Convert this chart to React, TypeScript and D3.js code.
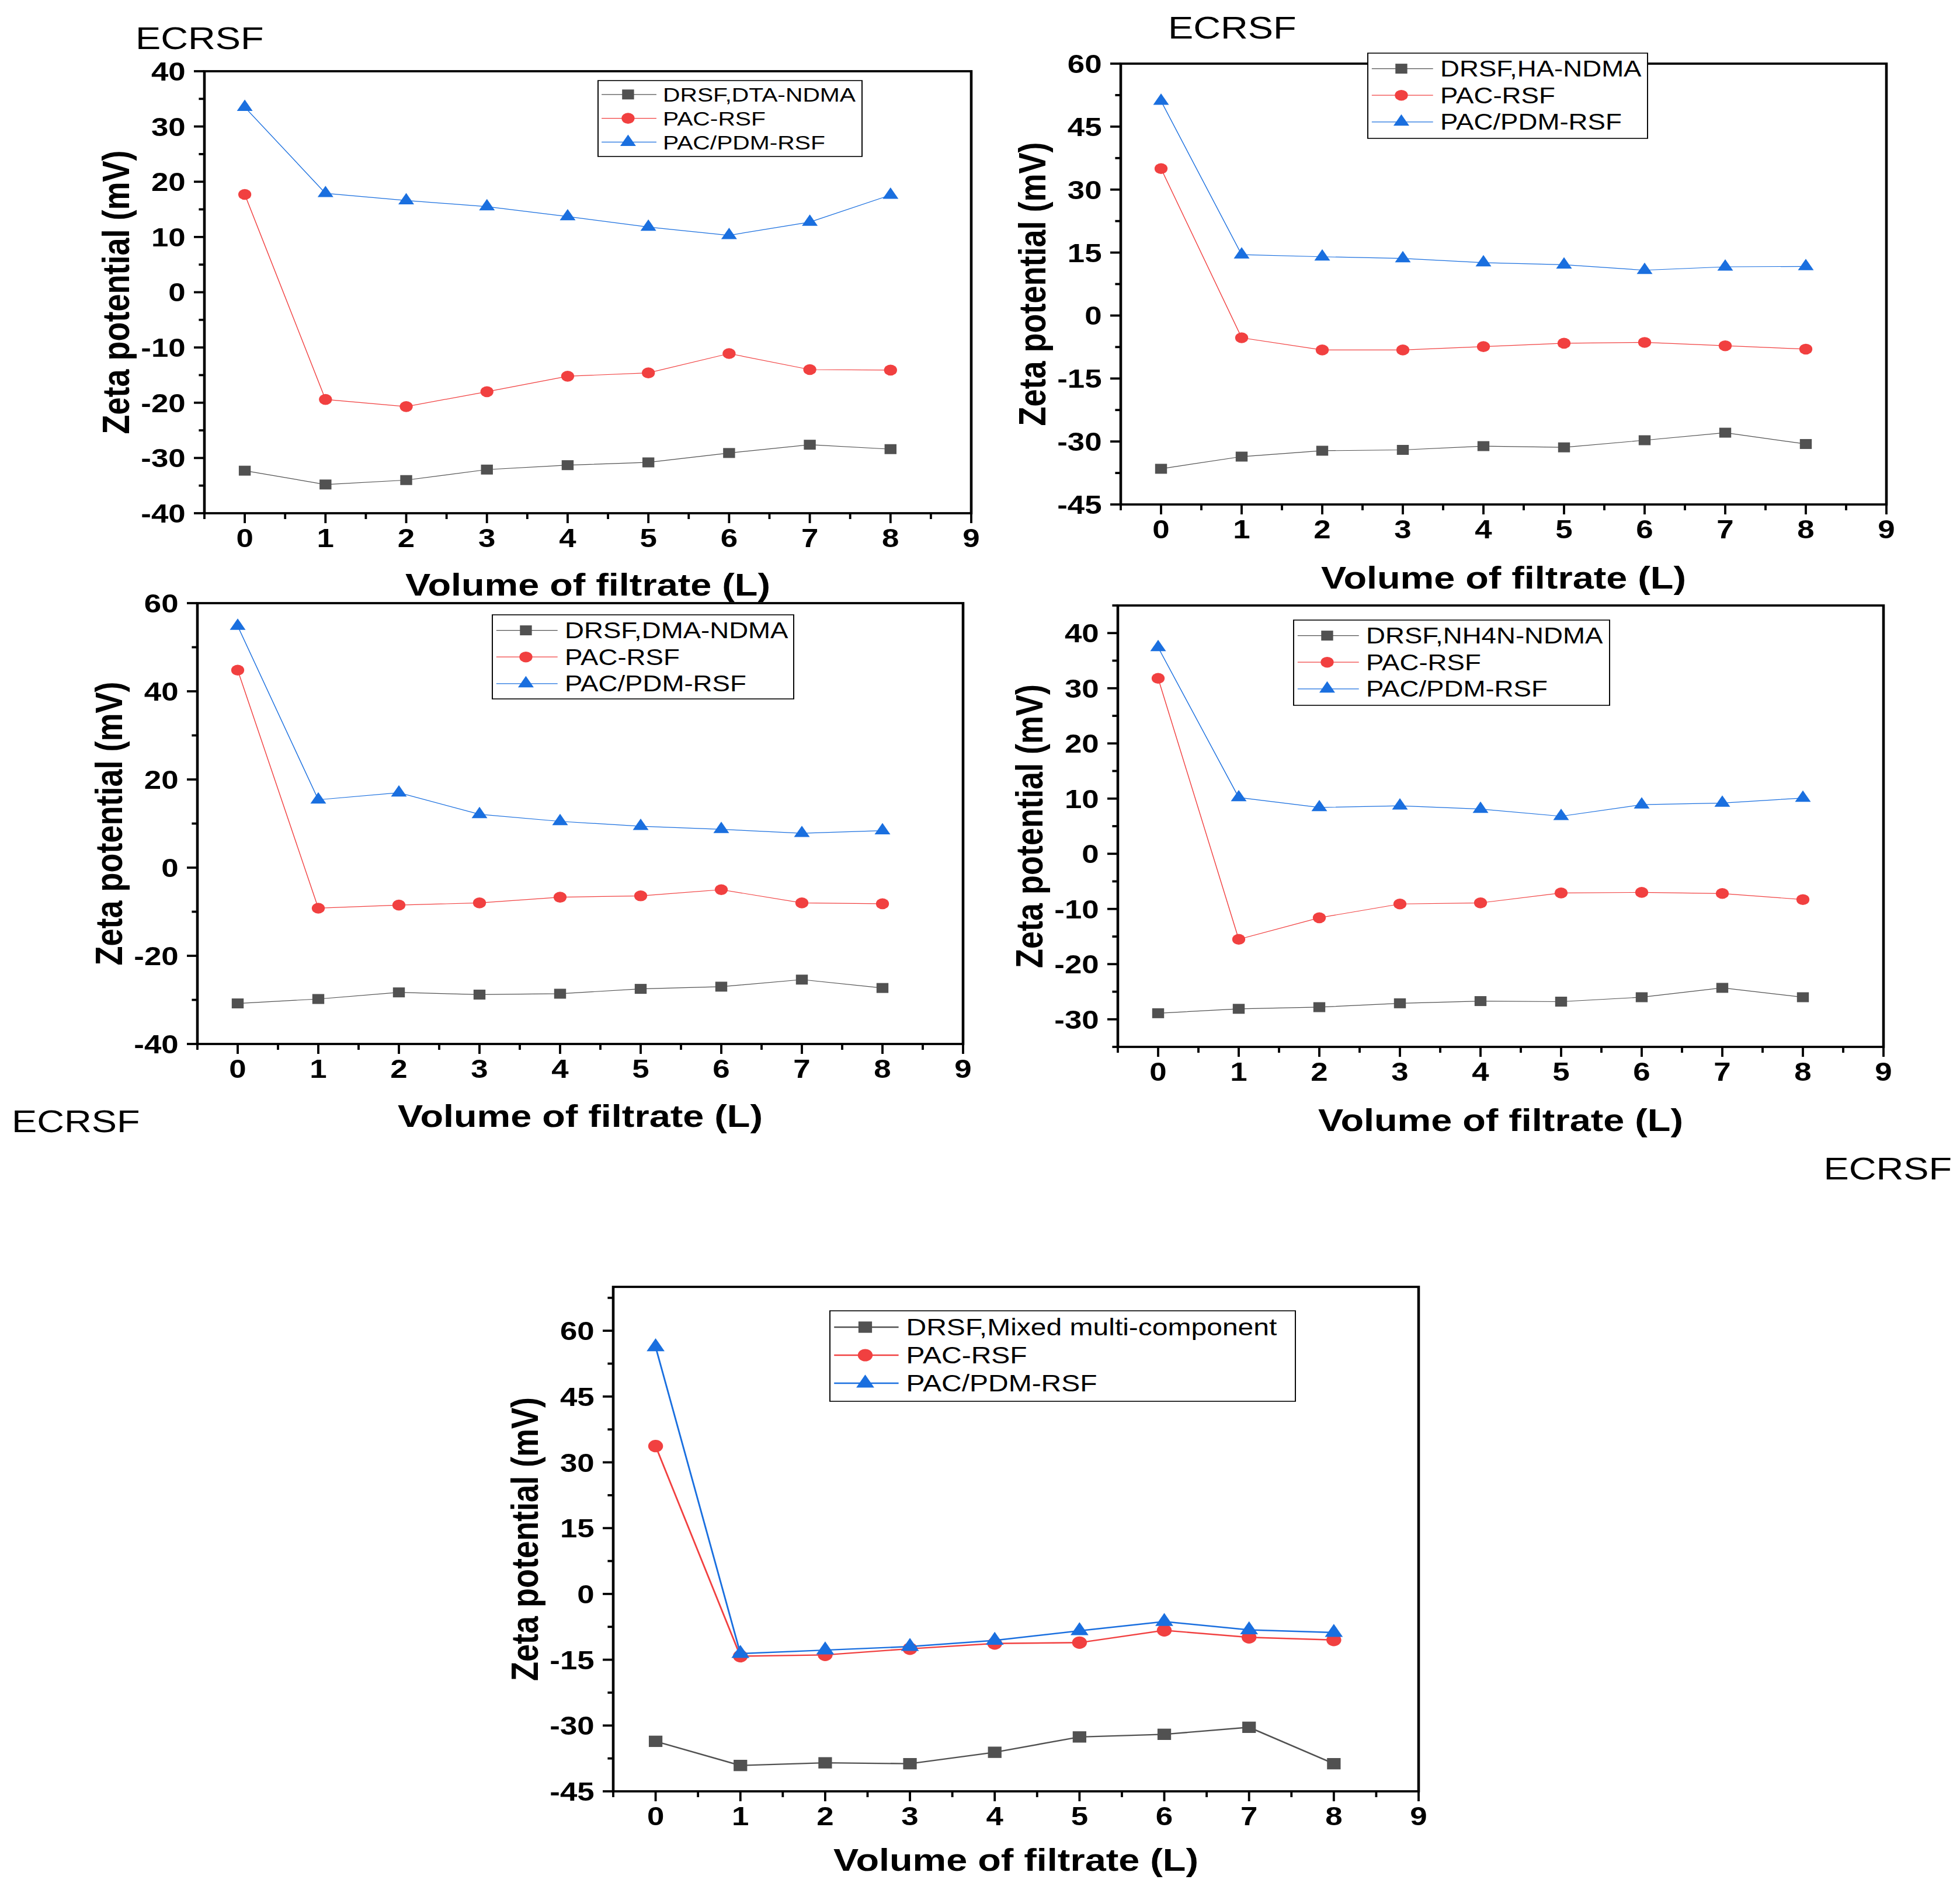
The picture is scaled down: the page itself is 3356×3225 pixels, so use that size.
import React from 'react';
import * as d3 from 'd3';

// Volume of filtrate (L), shared x values of every panel
const volumes = [0, 1, 2, 3, 4, 5, 6, 7, 8];
const xTicks = [0, 1, 2, 3, 4, 5, 6, 7, 8, 9];

// Panel a: DTA-NDMA
const drsfDTA = [-32.3, -34.8, -34.0, -32.1, -31.3, -30.8, -29.1, -27.6, -28.4];
const pacDTA = [17.7, -19.4, -20.7, -18.0, -15.2, -14.6, -11.1, -14.0, -14.1];
const pdmDTA = [33.5, 17.9, 16.6, 15.5, 13.7, 11.8, 10.3, 12.7, 17.6];
const ticksDTA = [-40, -30, -20, -10, 0, 10, 20, 30, 40];

// Panel b: HA-NDMA
const drsfHA = [-36.5, -33.6, -32.2, -32.0, -31.1, -31.4, -29.7, -27.9, -30.6];
const pacHA = [35.0, -5.3, -8.2, -8.2, -7.4, -6.6, -6.4, -7.2, -8.0];
const pdmHA = [51.1, 14.5, 14.0, 13.6, 12.6, 12.1, 10.8, 11.6, 11.7];
const ticksHA = [-45, -30, -15, 0, 15, 30, 45, 60];

// Panel c: DMA-NDMA
const drsfDMA = [-30.8, -29.8, -28.3, -28.8, -28.6, -27.5, -27.0, -25.4, -27.3];
const pacDMA = [44.8, -9.2, -8.5, -8.0, -6.7, -6.4, -5.0, -8.0, -8.2];
const pdmDMA = [54.8, 15.4, 17.0, 12.1, 10.5, 9.4, 8.7, 7.8, 8.4];
const ticksDMA = [-40, -20, 0, 20, 40, 60];

// Panel d: NH4N-NDMA
const drsfNH4N = [-28.9, -28.1, -27.8, -27.1, -26.7, -26.8, -26.0, -24.3, -26.0];
const pacNH4N = [31.8, -15.5, -11.6, -9.1, -8.9, -7.1, -7.0, -7.2, -8.3];
const pdmNH4N = [37.4, 10.2, 8.4, 8.7, 8.1, 6.8, 8.9, 9.2, 10.1];
const ticksNH4N = [-30, -20, -10, 0, 10, 20, 30, 40];

// Panel e: mixed multi-component
const drsfMixed = [-33.6, -39.1, -38.5, -38.7, -36.1, -32.6, -32.0, -30.4, -38.7];
const pacMixed = [33.7, -14.2, -13.9, -12.5, -11.3, -11.1, -8.3, -9.9, -10.5];
const pdmMixed = [56.3, -13.6, -12.8, -12.0, -10.6, -8.4, -6.3, -8.2, -8.8];
const ticksMixed = [-45, -30, -15, 0, 15, 30, 45, 60];

const seriesLabels = ['PAC-RSF', 'PAC/PDM-RSF'];

// the whole figure is a bit wider than tall, so draw in a squeezed frame
const SX = 1.2;
const FONT = '"Liberation Sans", Arial, Helvetica, sans-serif';
const COLORS = ['#515151', '#F14040', '#1A6FDF'];
const SYMBOLS = [d3.symbolSquare, d3.symbolCircle, d3.symbolTriangle];
const SYMBOL_SIZE = [289, 272, 219];

interface PanelSpec {
  first: string;
  series: number[][];
  ticks: number[];
  yDomain: [number, number];
  minorStep: number;
  box: [number, number, number, number]; // left, right, top, bottom (page px)
  legend: [number, number, number, number]; // x, y, w, h (page px)
  legendFont: number;
  lineWidth: number;
  markerScale: number;
  titleGap: number;
  tag?: { x: number; y: number; anchor: string };
}

const panels: PanelSpec[] = [
  {
    first: 'DRSF,DTA-NDMA', series: [drsfDTA, pacDTA, pdmDTA], ticks: ticksDTA,
    yDomain: [-40, 40], minorStep: 5, box: [350, 1663, 122, 879],
    legend: [1024, 138, 452, 130], legendFont: 34, lineWidth: 1.2, markerScale: 1, titleGap: 141,
    tag: { x: 232, y: 84, anchor: 'start' },
  },
  {
    first: 'DRSF,HA-NDMA', series: [drsfHA, pacHA, pdmHA], ticks: ticksHA,
    yDomain: [-45, 60], minorStep: 7.5, box: [1919, 3230, 109, 864],
    legend: [2342, 91, 479, 146], legendFont: 38, lineWidth: 1.2, markerScale: 1, titleGap: 144,
    tag: { x: 2000, y: 66, anchor: 'start' },
  },
  {
    first: 'DRSF,DMA-NDMA', series: [drsfDMA, pacDMA, pdmDMA], ticks: ticksDMA,
    yDomain: [-40, 60], minorStep: 10, box: [338, 1649, 1033, 1788],
    legend: [843, 1053, 516, 144], legendFont: 38, lineWidth: 1.2, markerScale: 1, titleGap: 142,
    tag: { x: 20, y: 1939, anchor: 'start' },
  },
  {
    first: 'DRSF,NH4N-NDMA', series: [drsfNH4N, pacNH4N, pdmNH4N], ticks: ticksNH4N,
    yDomain: [-35, 45], minorStep: 5, box: [1914, 3225, 1037, 1793],
    legend: [2215, 1062, 541, 146], legendFont: 38, lineWidth: 1.2, markerScale: 1, titleGap: 144,
    tag: { x: 3342, y: 2020, anchor: 'end' },
  },
  {
    first: 'DRSF,Mixed multi-component', series: [drsfMixed, pacMixed, pdmMixed], ticks: ticksMixed,
    yDomain: [-45, 70], minorStep: 7.5, box: [1050, 2429, 2204, 3068],
    legend: [1421, 2245, 797, 155], legendFont: 40, lineWidth: 2.4, markerScale: 1.3, titleGap: 136,
  },
];

function Panel({ p }: { p: PanelSpec }) {
  const [l, r, t, b] = p.box;
  const x = d3.scaleLinear().domain([-0.5, 9]).range([l / SX, r / SX]);
  const y = d3.scaleLinear().domain(p.yDomain).range([b, t]);
  const line = d3.line<number>().x((_, i) => x(volumes[i])).y((d) => y(d));
  const marker = (si: number) => d3.symbol(SYMBOLS[si], SYMBOL_SIZE[si] * p.markerScale)() || '';

  const yMinor = d3.range(p.yDomain[0], p.yDomain[1] + 1e-6, p.minorStep)
    .filter((v) => !p.ticks.some((tk) => Math.abs(tk - v) < 1e-6));
  const xMinor = d3.range(-0.5, 9, 1);

  const x0 = x(-0.5);
  const labels = [p.first, ...seriesLabels];
  const [lx, ly, lw, lh] = p.legend;
  const f = p.legendFont;

  return (
    <g>
      {/* series */}
      {p.series.map((s, si) => (
        <g key={si}>
          <path d={line(s) || ''} fill="none" stroke={COLORS[si]} strokeWidth={p.lineWidth} />
          {s.map((v, i) => (
            <path key={i} transform={`translate(${x(volumes[i])},${y(v)})`} d={marker(si)} fill={COLORS[si]} />
          ))}
        </g>
      ))}

      {/* frame */}
      <rect x={x0} y={t} width={x(9) - x0} height={b - t} fill="none" stroke="#000" strokeWidth={3.8} />

      {/* y ticks */}
      {p.ticks.map((v) => (
        <g key={v}>
          <line x1={x0 - 15} x2={x0} y1={y(v)} y2={y(v)} stroke="#000" strokeWidth={3.8} />
          <text x={x0 - 27} y={y(v) + 16} textAnchor="end" fontSize={44} fontWeight="bold" fontFamily={FONT}>{v}</text>
        </g>
      ))}
      {yMinor.map((v) => (
        <line key={v} x1={x0 - 8} x2={x0} y1={y(v)} y2={y(v)} stroke="#000" strokeWidth={3.8} />
      ))}

      {/* x ticks */}
      {xTicks.map((v) => (
        <g key={v}>
          <line x1={x(v)} x2={x(v)} y1={b} y2={b + 17} stroke="#000" strokeWidth={3.2} />
          <text x={x(v)} y={b + 58} textAnchor="middle" fontSize={44} fontWeight="bold" fontFamily={FONT}>{v}</text>
        </g>
      ))}
      {xMinor.map((v) => (
        <line key={v} x1={x(v)} x2={x(v)} y1={b} y2={b + 10} stroke="#000" strokeWidth={3.2} />
      ))}

      {/* axis titles */}
      <text x={(x0 + x(9)) / 2} y={b + p.titleGap} textAnchor="middle" fontSize={54} fontWeight="bold" fontFamily={FONT}>
        Volume of filtrate (L)
      </text>
      <text transform={`translate(${x0 - 127},${(t + b) / 2}) rotate(-90)`} dy="0.36em" textAnchor="middle"
        fontSize={54} fontWeight="bold" fontFamily={FONT}>
        Zeta potential (mV)
      </text>

      {/* legend */}
      <rect x={lx / SX} y={ly} width={lw / SX} height={lh} fill="#fff" stroke="#000" strokeWidth={1.6} />
      {labels.map((name, i) => {
        const cy = ly + f * 0.7 + i * f * 1.2;
        const bx = lx / SX;
        return (
          <g key={name}>
            <line x1={bx + f * 0.15} x2={bx + f * 2.45} y1={cy} y2={cy} stroke={COLORS[i]} strokeWidth={p.lineWidth} />
            <path transform={`translate(${bx + f * 1.26},${cy})`} d={marker(i)} fill={COLORS[i]} />
            <text x={bx + f * 2.72} y={cy + f * 0.36} fontSize={f} fontFamily={FONT}>{name}</text>
          </g>
        );
      })}

      {p.tag && (
        <text x={p.tag.x / SX} y={p.tag.y} textAnchor={p.tag.anchor as any} fontSize={54} fontFamily={FONT}>ECRSF</text>
      )}
    </g>
  );
}

export default function App() {
  return (
    <div>
      <style>{'body{margin:0;background:#fff}'}</style>
      <svg width={3356} height={3225} style={{ display: 'block' }}>
        <rect width={3356} height={3225} fill="#fff" />
        <g transform={`scale(${SX},1)`}>
          {panels.map((p, i) => <Panel key={i} p={p} />)}
        </g>
      </svg>
    </div>
  );
}
